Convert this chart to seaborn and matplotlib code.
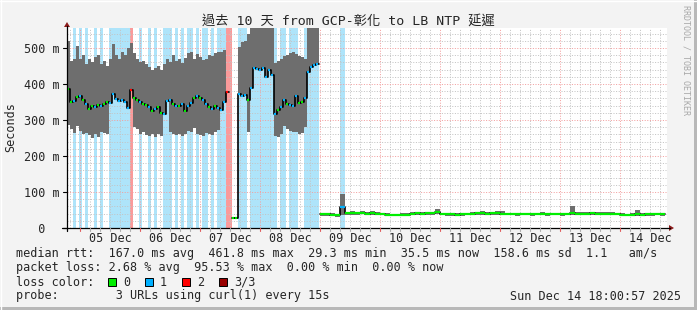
import numpy as np
import pandas as pd
import matplotlib
matplotlib.use("Agg")
import matplotlib.pyplot as plt
import seaborn as sns
from matplotlib.patches import Rectangle, Polygon
from matplotlib.lines import Line2D

# ---------------- data ----------------
title = "過去 10 天 from GCP-彰化 to LB NTP 延遲"
day_labels = ["05 Dec", "06 Dec", "07 Dec", "08 Dec", "09 Dec",
              "10 Dec", "11 Dec", "12 Dec", "13 Dec", "14 Dec"]
y_tick_ms = [0, 100, 200, 300, 400, 500]
y_tick_labels = ["  0  ", "100 m", "200 m", "300 m", "400 m", "500 m"]

window_start = "2025-12-04 18:48"
window_end = "2025-12-14 18:48"

# high-latency period, one sample every 72 minutes (ms)
hi_start = "2025-12-04 18:48"
hi_step_min = 72
hi_top = [520, 465, 470, 505, 470, 480, 455, 470, 460, 475, 480, 455, 465, 450, 470, 510, 480, 470, 490, 480, 500, 515,
          485, 470, 462, 465, 455, 448, 440, 445, 450, 438, 455, 470, 460, 480, 465, 470, 458, 472, 485, 490,
          470, 482, 476, 468, 470, 480, 478, 485, 490, 488, 495, 505,
          np.nan, 31, 31,
          503, 517, 520, 540, 556, 560, 560, 560, 560, 560, 560, 560,
          458, 465, 470, 478, 480, 486, 488, 482, 478, 475, 470, 560, 560, 560, 560]
hi_med = [385, 350, 352, 365, 368, 355, 345, 330, 340, 335, 342, 338, 345, 350, 348, 372, 358, 352, 356, 350, 332, 382,
          362, 356, 350, 345, 342, 335, 325, 330, 336, 320, 318, 352, 356, 345, 340, 338, 344, 325, 340, 348,
          362, 368, 362, 356, 345, 335, 330, 338, 332, 328, 350, 378,
          np.nan, 28, 28,
          372, 368, 370, 355, 388, 444, 442, 440, 445, 420, 438, 425,
          318, 328, 335, 355, 344, 342, 340, 368, 347, 350, 362, 432, 447, 452, 456]
hi_bot = [285, 275, 265, 282, 270, 262, 265, 258, 250, 262, 252, 268, 265, 262, 348, 372, 358, 352, 356, 350, 332, 382,
          280, 275, 262, 268, 258, 255, 262, 252, 260, 255, 318, 352, 268, 262, 258, 262, 255, 260, 270, 268,
          278, 262, 258, 255, 265, 262, 258, 268, 272, 328, 350, 378,
          np.nan, 26, 26,
          372, 368, 370, 268, 388, 444, 442, 440, 445, 420, 438, 425,
          255, 252, 262, 282, 275, 270, 266, 268, 262, 264, 280, 432, 447, 452, 456]
hi_loss = [0, 0, 1, 0, 1, 0, 1, 0, 0, 1, 0, 1, 0, 0, 1, 1, 1, 1, 1, 1, 1, 2,
           0, 0, 1, 0, 0, 1, 0, 1, 0, 0, 1, 1, 1, 0, 1, 0, 1, 0, 1, 1,
           0, 1, 0, 1, 1, 0, 1, 0, 1, 1, 1, 2,
           2, 0, 0,
           1, 1, 1, 0, 1, 1, 1, 1, 1, 1, 1, 1,
           1, 0, 1, 1, 0, 1, 1, 1, 0, 0, 1, 1, 1, 1, 1]

# low-latency period, one sample every 2 hours (ms)
lo_start = "2025-12-09 00:00"
lo_step_min = 120
lo_top = [42, 43, 42, 40, 94, 45, 46, 45, 46, 45, 46, 44, 42, 41, 40, 40, 41, 41, 44, 45,
          45, 44, 45, 52, 43, 42, 42, 41, 43, 43, 45, 45, 46, 45, 45, 47, 48, 43, 42, 43,
          42, 43, 42, 43, 44, 42, 43, 43, 42, 43, 61, 44, 44, 45, 44, 44, 45, 44, 44, 43,
          41, 40, 42, 50, 42, 42, 43, 42, 42]
lo_med = [38, 38, 37, 36, 58, 41, 41, 41, 41, 40, 41, 40, 38, 37, 36, 36, 36, 37, 40, 41,
          40, 41, 41, 45, 39, 38, 38, 37, 38, 39, 40, 41, 41, 40, 41, 41, 40, 39, 39, 38,
          39, 39, 38, 39, 39, 38, 39, 39, 38, 39, 42, 40, 40, 40, 41, 40, 40, 40, 40, 39,
          37, 36, 37, 38, 37, 38, 38, 38, 38]
lo_bot = [34, 33, 32, 31, 36, 37, 37, 37, 38, 37, 37, 36, 35, 34, 34, 33, 34, 34, 36, 37,
          36, 37, 37, 38, 35, 34, 33, 32, 34, 35, 36, 37, 37, 36, 37, 37, 36, 35, 35, 34,
          35, 35, 34, 35, 35, 34, 35, 35, 34, 35, 37, 36, 36, 36, 37, 36, 36, 36, 36, 35,
          33, 32, 33, 34, 33, 34, 34, 35, 34]
lo_loss = [0, 0, 0, 0, 1] + [0] * 64

stats_lines = [
    "median rtt:  167.0 ms avg  461.8 ms max  29.3 ms min  35.5 ms now  158.6 ms sd  1.1   am/s",
    "packet loss: 2.68 % avg  95.53 % max  0.00 % min  0.00 % now",
]
loss_names = ["0", "1", "2", "3/3"]
probe_line = "probe:        3 URLs using curl(1) every 15s"
stamp = "Sun Dec 14 18:00:57 2025"

# ---------------- styling ----------------
sns.set_style("white")
plt.rcParams["font.family"] = ["DejaVu Sans Mono", "Noto Sans CJK TC"]

BG = "#f3f3f3"
SMOKE = "#6e6e6e"
LOSS_BG = {1: "#aee4fa", 2: "#fa9a9a", 3: "#fa9a9a"}
LOSS_COL = {0: "#00ee00", 1: "#00b0ff", 2: "#ff0000", 3: "#990000"}
MINOR = "#c4c4c4"
MAJOR = "#f2a0a0"

W, H = 697, 310
def fx(px): return px / W
def fy(py): return 1 - py / H

ref = pd.Timestamp("2025-12-05")
day = pd.Timedelta(days=1)

def to_days(start, n, step):
    t = pd.date_range(start, periods=n, freq=f"{step}min")
    return np.asarray((t - ref) / day, dtype=float), step / 1440.0

hi_t, hi_dt = to_days(hi_start, len(hi_med), hi_step_min)
lo_t, lo_dt = to_days(lo_start, len(lo_med), lo_step_min)
x0 = (pd.Timestamp(window_start) - ref) / day
x1 = (pd.Timestamp(window_end) - ref) / day

fig = plt.figure(figsize=(W / 100, H / 100), dpi=100)
fig.patch.set_facecolor(BG)
ax = fig.add_axes([fx(67), fy(228), (667 - 67) / W, (228 - 28) / H])
ax.set_facecolor("white")
ax.set_xlim(x0, x1)
ymax = 0.5556
ax.set_ylim(0, ymax)
for s in ax.spines.values():
    s.set_visible(False)

# loss background stripes
for t, dt, loss in [(hi_t, hi_dt, hi_loss), (lo_t, lo_dt, lo_loss)]:
    for ti, li in zip(t, loss):
        if li >= 1:
            ax.axvspan(ti, ti + dt, color=LOSS_BG[li], lw=0, zorder=0.5)

# grid
dots = (0, (1, 1.6))
for k in range(-1, 61):
    xv = k / 6
    if x0 < xv < x1:
        major = (k % 6 == 0)
        ax.axvline(xv, color=MAJOR if major else MINOR, lw=0.72, ls=dots, zorder=1)
for v in range(20, 560, 20):
    major = (v % 100 == 0)
    ax.axhline(v / 1000, color=MAJOR if major else MINOR, lw=0.72, ls=dots, zorder=1)

# smoke
for t, dt, top, bot in [(hi_t, hi_dt, hi_top, hi_bot), (lo_t, lo_dt, lo_top, lo_bot)]:
    tt = np.append(t, t[-1] + dt)
    tp = np.append(np.array(top, float), top[-1]) / 1000
    bt = np.append(np.array(bot, float), bot[-1]) / 1000
    ax.fill_between(tt, bt, tp, step="post", color=SMOKE, lw=0, zorder=2)

# median black step line (seaborn), split at gaps
rows = []
seg = 0
for t, dt, med in [(hi_t, hi_dt, hi_med), (lo_t, lo_dt, lo_med)]:
    seg += 1
    prev_ok = False
    for i, (ti, mi) in enumerate(zip(t, med)):
        if np.isnan(mi):
            if prev_ok:
                rows.append((seg, ti, med[i - 1] / 1000))
            seg += 1
            prev_ok = False
            continue
        rows.append((seg, ti, mi / 1000))
        prev_ok = True
    if prev_ok:
        rows.append((seg, t[-1] + dt, med[-1] / 1000))
df = pd.DataFrame(rows, columns=["seg", "t", "med"])
sns.lineplot(data=df, x="t", y="med", units="seg", estimator=None, color="black",
             lw=1.2, drawstyle="steps-post", ax=ax, zorder=3, legend=False)

# coloured median marks by loss
for t, dt, med, loss, frac in [(hi_t, hi_dt, hi_med, hi_loss, 0.55), (lo_t, lo_dt, lo_med, lo_loss, 1.0)]:
    for ti, mi, li in zip(t, med, loss):
        if np.isnan(mi):
            continue
        ax.hlines(mi / 1000, ti, ti + dt * frac, color=LOSS_COL[li], lw=1.6, zorder=4)

# ticks / labels
ax.set_xticks([i + 0.5 for i in range(len(day_labels))])
ax.set_xticklabels(day_labels, fontsize=8.5)
ax.set_yticks([v / 1000 for v in y_tick_ms])
ax.set_yticklabels(y_tick_labels, fontsize=8.5)
ax.tick_params(axis="x", length=0, pad=3)
ax.tick_params(axis="y", length=0, pad=5)
ax.set_xlabel("")
ax.set_ylabel("")

# axes lines and arrows
fig.add_artist(Line2D([fx(62), fx(670)], [fy(228), fy(228)], color="black", lw=0.9))
fig.add_artist(Line2D([fx(67), fx(67)], [fy(231), fy(26)], color="black", lw=0.9))
fig.add_artist(Polygon([[fx(669), fy(225)], [fx(669), fy(231)], [fx(674), fy(228)]],
                       closed=True, color="#8b1a1a", lw=0))
fig.add_artist(Polygon([[fx(64), fy(27)], [fx(70), fy(27)], [fx(67), fy(22)]],
                       closed=True, color="#8b1a1a", lw=0))
for k in range(0, 61):
    xv = k / 6
    if x0 < xv < x1:
        px = 67 + (xv - x0) / (x1 - x0) * 600
        major = (k % 6 == 0)
        fig.add_artist(Line2D([fx(px), fx(px)], [fy(228), fy(231)],
                              color="#e06060" if major else "#b0b0b0", lw=0.8))
for v in y_tick_ms:
    py = 228 - v * 0.36
    fig.add_artist(Line2D([fx(63), fx(67)], [fy(py), fy(py)], color="black", lw=0.8))

# texts
fig.text(fx(348), fy(21), title, ha="center", va="center", fontsize=9.5,
         family=["DejaVu Sans Mono", "Noto Sans CJK TC"])
fig.text(fx(11), fy(127), "Seconds", rotation=90, ha="center", va="center", fontsize=8.5)
fig.text(fx(686), fy(5), "RRDTOOL / TOBI OETIKER", rotation=270, ha="center", va="top",
         fontsize=6, color="#a8a8a8")

fs = 8.5
fig.text(fx(16), fy(254), stats_lines[0], ha="left", va="center", fontsize=fs)
fig.text(fx(16), fy(268), stats_lines[1], ha="left", va="center", fontsize=fs)
fig.text(fx(16), fy(282), "loss color:", ha="left", va="center", fontsize=fs)
sw_x = [108, 145, 182, 219]
for xs, name, key in zip(sw_x, loss_names, [0, 1, 2, 3]):
    fig.add_artist(Rectangle((fx(xs), fy(286)), 8 / W, 8 / H, facecolor=LOSS_COL[key],
                             edgecolor="black", lw=0.7))
    fig.text(fx(xs + 15), fy(282), name, ha="left", va="center", fontsize=fs)
fig.text(fx(16), fy(296), probe_line, ha="left", va="center", fontsize=fs)
fig.text(fx(681), fy(296), stamp, ha="right", va="center", fontsize=fs)

# frame
fig.add_artist(Rectangle((fx(694), 0), 3 / W, 1, facecolor="#b8b8b8", lw=0))
fig.add_artist(Rectangle((0, 0), 1, 3 / H, facecolor="#b8b8b8", lw=0))
fig.add_artist(Line2D([0, 1], [fy(0.5), fy(0.5)], color="white", lw=1))
fig.add_artist(Line2D([fx(0.5), fx(0.5)], [0, 1], color="white", lw=1))

fig.savefig("out.png", dpi=100, facecolor=BG)
